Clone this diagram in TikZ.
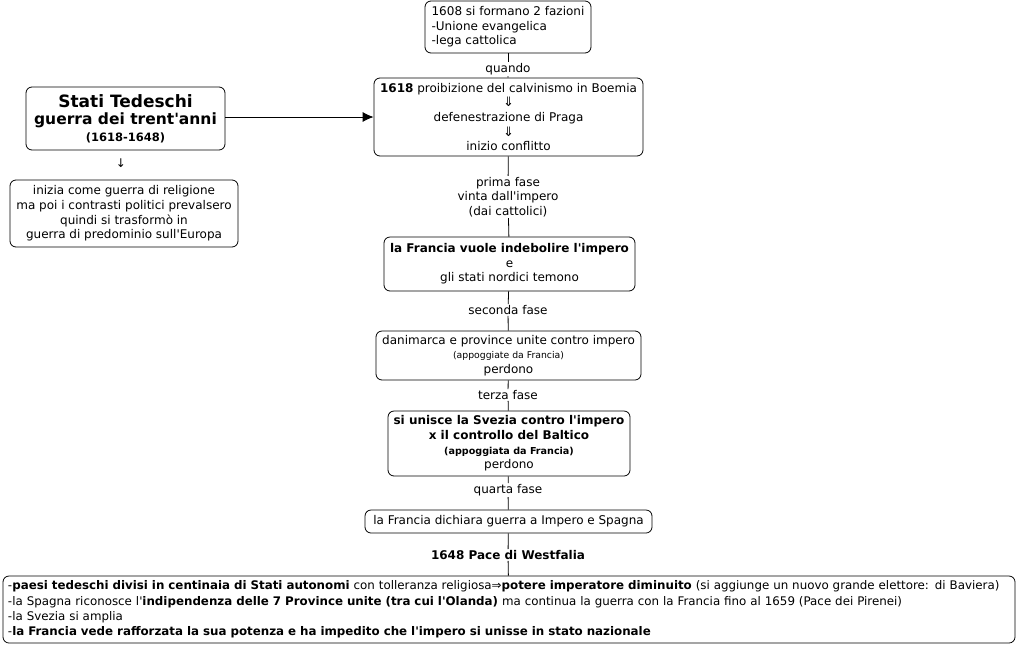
\documentclass[tikz,border=0pt]{standalone}
\usepackage{fontspec}
\setmainfont{DejaVu Sans}[Ligatures=TeXOff]
\usetikzlibrary{arrows.meta}
\tikzset{
  box/.style={draw, line width=0.8pt, rounded corners=6pt, align=center, inner sep=2pt,
    font=\fontsize{12}{14.6}\selectfont},
  lbl/.style={align=center, inner sep=1pt, font=\fontsize{12}{14.6}\selectfont},
  conn/.style={line width=0.8pt},
}
\newcommand{\dn}{{\fontsize{13}{10}\selectfont ⇓}}
\begin{document}
\begin{tikzpicture}[x=1pt,y=-1pt]
\useasboundingbox (0,0) rectangle (1017,646);
\node[box, minimum width=166pt, minimum height=52pt, align=left] (top) at (508,27)
  {1608 si formano 2 fazioni\\-Unione evangelica\\-lega cattolica};
\node[lbl] (quando) at (508,69) {quando};
\node[box, minimum width=269pt, minimum height=78pt] (b1618) at (508.5,117)
  {\textbf{1618} proibizione del calvinismo in Boemia\\\dn\\defenestrazione di Praga\\\dn\\inizio conflitto};
\node[box, minimum width=199pt, minimum height=63pt, inner sep=1pt] (stati) at (125.5,118.5)
  {{\fontsize{17}{20}\selectfont\bfseries Stati Tedeschi}\\[3pt]
   {\fontsize{15.5}{18}\selectfont\bfseries guerra dei trent'anni}\\[2pt]
   {\fontsize{11.5}{13}\selectfont\bfseries (1618-1648)}};
\node[lbl] (freccia) at (121,163) {↓};
\node[box, minimum width=228pt, minimum height=67pt] (inizia) at (124,213.5)
  {inizia come guerra di religione\\ma poi i contrasti politici prevalsero\\quindi si trasformò in\\guerra di predominio sull'Europa};
\node[lbl] (prima) at (508,197) {prima fase\\vinta dall'impero\\(dai cattolici)};
\node[box, minimum width=251pt, minimum height=54pt] (francia) at (509.5,264)
  {\textbf{la Francia vuole indebolire l'impero}\\e\\gli stati nordici temono};
\node[lbl] (seconda) at (508,310) {seconda fase};
\node[box, minimum width=265pt, minimum height=49pt] (dan) at (508.5,355.5)
  {danimarca e province unite contro impero\\{\fontsize{9.3}{11}\selectfont (appoggiate da Francia)}\\perdono};
\node[lbl] (terza) at (508,395) {terza fase};
\node[box, minimum width=242pt, minimum height=65pt] (svezia) at (509,443.5)
  {\textbf{si unisce la Svezia contro l'impero}\\\textbf{x il controllo del Baltico}\\{\fontsize{9.6}{11}\selectfont\bfseries (appoggiata da Francia)}\\perdono};
\node[lbl] (quarta) at (508,490) {quarta fase};
\node[box, minimum width=287pt, minimum height=23pt] (dich) at (508.5,521.5)
  {la Francia dichiara guerra a Impero e Spagna};
\node[lbl, font=\fontsize{12}{14.6}\selectfont\bfseries] (pace) at (508,555) {1648 Pace di Westfalia};
\node[box, minimum width=1012pt, minimum height=67pt, align=left, text width=1002pt, inner xsep=5pt,
      font=\fontsize{11.85}{15.3}\selectfont] (fine) at (509,609.5)
  {-\textbf{paesi tedeschi divisi in centinaia di Stati autonomi} con tolleranza religiosa⇒\textbf{potere imperatore diminuito} (si aggiunge un nuovo grande elettore: di Baviera)\\
   -la Spagna riconosce l'\textbf{indipendenza delle 7 Province unite (tra cui l'Olanda)} ma continua la guerra con la Francia fino al 1659 (Pace dei Pirenei)\\
   -la Svezia si amplia\\
   -\textbf{la Francia vede rafforzata la sua potenza e ha impedito che l'impero si unisse in stato nazionale}};
% connectors
\draw[conn, -{Latex[length=11pt,width=10pt]}] (stati.east |- b1618.west) --
  node[pos=0.5, inner sep=0pt, yshift=-1pt]{\fontsize{7}{7}\selectfont .} (b1618.west);
\draw[conn] (top) -- (quando);
\draw[conn] (quando) -- (b1618);
\draw[conn] (b1618) -- (prima);
\draw[conn] (prima) -- (francia);
\draw[conn] (francia) -- (seconda);
\draw[conn] (seconda) -- (dan);
\draw[conn] (dan) -- (terza);
\draw[conn] (terza) -- (svezia);
\draw[conn] (svezia) -- (quarta);
\draw[conn] (quarta) -- (dich);
\draw[conn] (dich) -- (pace);
\draw[conn] (pace) -- (fine);
\end{tikzpicture}
\end{document}
